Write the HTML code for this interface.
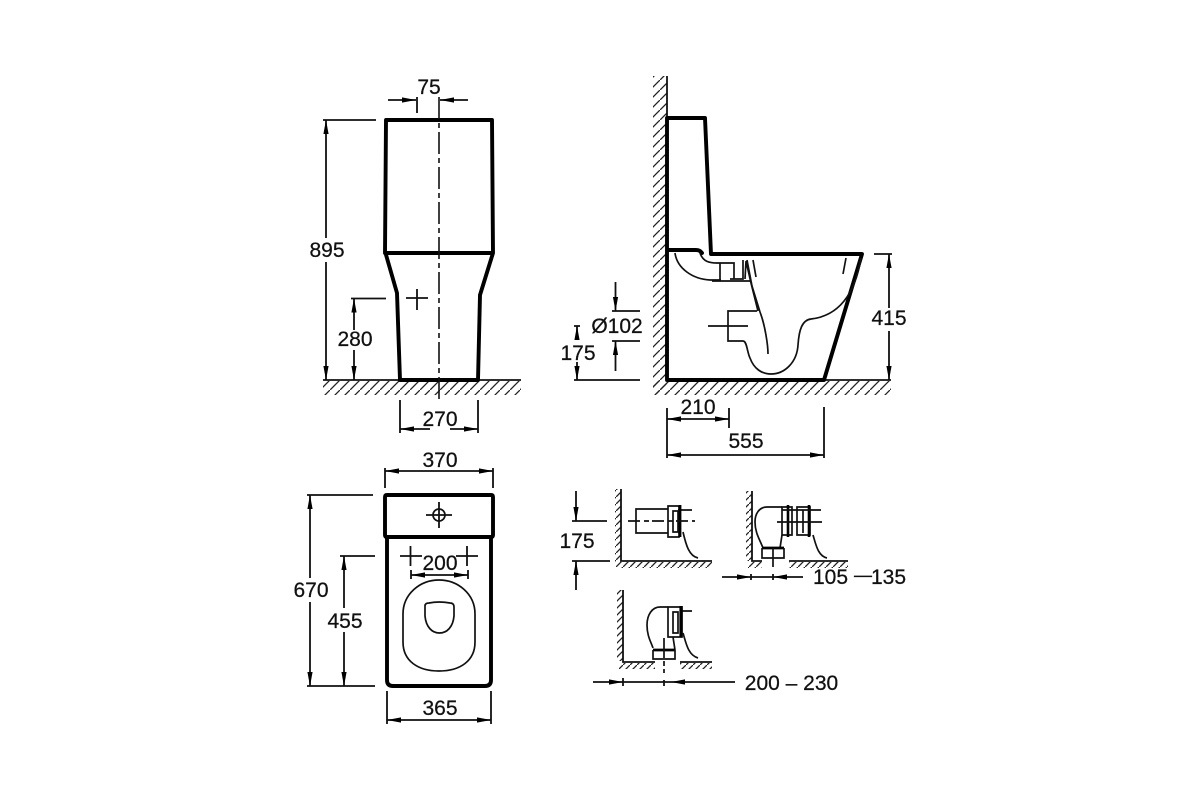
<!DOCTYPE html>
<html>
<head>
<meta charset="utf-8">
<style>
html,body{margin:0;padding:0;background:#fff;width:1200px;height:800px;overflow:hidden}
svg{display:block}
text{font-family:"Liberation Sans",sans-serif;font-size:21px;fill:#111;stroke:#111;stroke-width:.25;text-anchor:middle}
.d{stroke:#111;stroke-width:1.8;fill:none}
.a{stroke:#111;stroke-width:1.8;fill:none;marker-end:url(#ar)}
.t{stroke:#000;stroke-width:3.9;fill:none;stroke-linejoin:round;stroke-linecap:round}
.m{stroke:#111;stroke-width:1.7;fill:none}
.c{stroke:#111;stroke-width:1.6;fill:none;stroke-dasharray:22 4 5 4}
</style>
</head>
<body>
<svg width="1200" height="800" viewBox="0 0 1200 800" xmlns="http://www.w3.org/2000/svg">
<defs>
<marker id="ar" markerUnits="userSpaceOnUse" markerWidth="16" markerHeight="8" refX="14" refY="4" orient="auto">
<path d="M0,1.4 L14,4 L0,6.6 z" fill="#000"/>
</marker>
<pattern id="h" patternUnits="userSpaceOnUse" width="10" height="10">
<path d="M-1,11 L11,-1" stroke="#222" stroke-width="1.3"/>
</pattern>
<pattern id="s" patternUnits="userSpaceOnUse" width="7" height="7">
<path d="M-1,8 L8,-1" stroke="#222" stroke-width="1.3"/>
</pattern>
</defs>
<rect width="1200" height="800" fill="#fff"/>

<!-- FRONT VIEW -->
<rect x="323" y="381" width="198" height="14" fill="url(#h)"/>
<path class="d" d="M323,380H521"/>
<path class="t" d="M385,253L386,120H492L493,253M385,253H493M385.500,253L397,293L400,380H478L480,295L493,253"/>
<path class="c" d="M439,97V402"/>
<path class="d" d="M417,97V113M406,298H428M417,289V310"/>
<path class="a" d="M388,100H416"/><path class="a" d="M468,100H440"/>
<text x="429" y="94">75</text>
<path class="d" d="M323,120H376M351,298.500H386"/>
<path class="a" d="M326,238V120"/><path class="a" d="M326,262V380"/>
<text x="327" y="257">895</text>
<path class="a" d="M354,330V298.500"/><path class="a" d="M354,350V380"/>
<text x="355" y="346">280</text>
<path class="d" d="M400,400V433M478,400V433"/>
<path class="a" d="M430,429H400"/><path class="a" d="M450,429H478"/>
<text x="440" y="426">270</text>

<!-- SIDE VIEW -->
<rect x="653" y="76" width="14" height="318" fill="url(#h)"/>
<rect x="653" y="381" width="238" height="14" fill="url(#h)"/>
<path class="d" d="M667,76V118M824,380H891"/>
<path class="t" d="M667,118V380H824L862,254H711M667,118H705L711,254M667,250H696Q700,250 702,253"/>
<path class="t" style="stroke-width:1.8" d="M862,257L848,300"/>
<g class="m">
<path d="M675,253C677,268 692,279 710,280H721"/>
<path d="M700,253C703,262 710,263 717,263H734V279M720,263V280"/>
<path d="M712,281H750M730,279H743V260"/>
<path d="M745,279L746,261L751,283L758,311"/>
<path d="M747,260L752,286L760,312C765,325 768,345 768,354"/>
<path d="M753,260L756,277"/>
<path d="M757,311H728V341H743C747,341 747,352 750,358C754,369 762,374 771,374C785,374 797,362 798,345C799,330 802,320 811,319C838,316 855,295 861,258"/>
<path d="M846,258L843,274"/>
<path d="M708,326H748"/>
</g>
<path class="d" d="M612,311H640M612,341H640M574,380H640M574,326H580"/>
<path class="a" d="M615.500,282V311"/><path class="a" d="M615.500,371V341"/>
<text x="617" y="333">Ø102</text>
<path class="a" d="M577,338V326"/><path class="a" d="M577,362V380"/>
<text x="578" y="360">175</text>
<path class="d" d="M874,254H892"/>
<path class="a" d="M889,308V254"/><path class="a" d="M889,331V380"/>
<text x="889" y="325">415</text>
<path class="d" d="M667,408V458M729,408V428M824,407V458"/>
<path class="a" d="M698,419H667"/><path class="a" d="M698,419H729"/>
<text x="698" y="414">210</text>
<path class="a" d="M746,455H667"/><path class="a" d="M746,455H824"/>
<text x="746" y="448">555</text>

<!-- TOP VIEW -->
<path class="t" d="M387,537V680Q387,686 393,686H485Q491,686 491,680V537"/>
<path class="t" d="M387,537H491Q493,537 493,535V497Q493,495 491,495H387Q385,495 385,497V535Q385,537 387,537"/>
<path class="m" d="M403,614C403,594 420,580 439,580C458,580 475,594 475,614V642C475,661 460,671 439,671C418,671 403,661 403,642Z"/>
<path class="m" d="M425,606Q425,603 429,603Q439,601 450,603Q454,603 454,607V616C453,627 447,633 439.500,633C432,633 426,627 425,616Z"/>
<circle class="m" cx="439" cy="515" r="6"/>
<path class="d" d="M426,515H452M439,502V528"/>
<path class="d" d="M400,556H422M410.500,546V566M456,556H478M467,546V566"/>
<path class="d" d="M411,570V579M468,570V579"/>
<path class="a" d="M440,575H411"/><path class="a" d="M440,575H468"/>
<text x="440" y="570">200</text>
<path class="d" d="M385,468V488M493,468V488"/>
<path class="a" d="M439,471H385"/><path class="a" d="M439,471H493"/>
<text x="440" y="467">370</text>
<path class="d" d="M387,691V724M491,691V724"/>
<path class="a" d="M439,720H387"/><path class="a" d="M439,720H491"/>
<text x="440" y="715">365</text>
<path class="d" d="M307,495H373M340,556H375M307,686H375"/>
<path class="a" d="M310,578V495"/><path class="a" d="M310,602V686"/>
<text x="311" y="597">670</text>
<path class="a" d="M344,608V556"/><path class="a" d="M344,632V686"/>
<text x="345" y="628">455</text>

<!-- DETAIL 1 -->
<rect x="615" y="489" width="6" height="73" fill="url(#s)"/>
<rect x="616" y="562" width="96" height="6" fill="url(#s)"/>
<path class="d" d="M621,489V561H712"/>
<path class="m" d="M636,509H668V533H636ZM668,506H679V537H668ZM673,511H678V532H673ZM678,510H692"/>
<path d="M680,505V537" stroke="#000" stroke-width="2.8"/>
<path class="m" d="M628,521H695" stroke-dasharray="12 4 5 3"/>
<path class="m" d="M683,532C686,545 689,556 698,558"/>
<path class="d" d="M572,521H607M572,561H610"/>
<path class="a" d="M576,491V521"/><path class="a" d="M576,590V561"/>
<text x="577" y="548">175</text>

<!-- DETAIL 2 -->
<rect x="746" y="491" width="6" height="70" fill="url(#s)"/>
<rect x="748" y="562" width="14" height="6" fill="url(#s)"/>
<rect x="789" y="562" width="59" height="6" fill="url(#s)"/>
<path class="d" d="M752,491V561H762M789,561H848"/>
<path class="m" d="M782,507H767C759,507 755,514 755,522C755,533 760,540 763,548M782,535L780,548"/>
<path d="M762,548H784" stroke="#000" stroke-width="2.8"/>
<path class="m" d="M762,548V558H784V548M773,548V567"/>
<path class="m" d="M782,507H792V535H782ZM797,507H810V535H797ZM803,510V533"/>
<path d="M788,505V537M809,505V537" stroke="#000" stroke-width="2.6"/>
<path class="m" d="M777,522H822M782,510H821"/>
<path class="m" d="M813,535C816,545 818,556 827,558"/>
<path class="d" d="M751,574V580M773,574V580M751,577H773"/>
<path class="a" d="M722,577H751"/><path class="a" d="M803,577H773"/>
<text x="830.500" y="584">105</text>
<text x="863" y="581" style="font-size:18px">—</text>
<text x="888.500" y="584">135</text>

<!-- DETAIL 3 -->
<rect x="617" y="590" width="6" height="71" fill="url(#s)"/>
<rect x="619" y="663" width="36" height="6" fill="url(#s)"/>
<rect x="680" y="663" width="32" height="6" fill="url(#s)"/>
<path class="d" d="M623,590V662H655M680,662H712"/>
<path class="m" d="M668,607H660C652,607 647,615 647,625C647,636 651,642 653,648M673,637L675,650"/>
<path d="M653,650H675" stroke="#000" stroke-width="2.8"/>
<path class="m" d="M653,650V659H675V650"/>
<path class="m" d="M664,638V673" stroke-dasharray="20 3 5 3"/>
<path class="m" d="M668,607H682V637H668ZM673,612H678V633H673ZM682,611H692"/>
<path d="M681,606V637" stroke="#000" stroke-width="3.2"/>
<path class="m" d="M683,633C686,643 688,655 698,658"/>
<path class="d" d="M623,678V686M664,680V686M623,682H671"/>
<path class="a" d="M593,682H623"/><path class="a" d="M735,682H671"/>
<text x="791.500" y="690">200 – 230</text>
</svg>
</body>
</html>
